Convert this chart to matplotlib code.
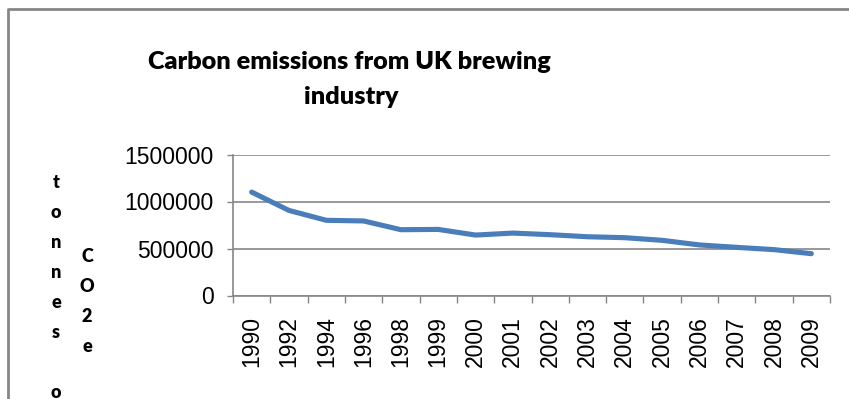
import numpy as np
import matplotlib
matplotlib.use('Agg')
import matplotlib.pyplot as plt
from matplotlib.lines import Line2D

# data
years = ['1990', '1992', '1994', '1996', '1998', '1999', '2000', '2001',
         '2002', '2003', '2004', '2005', '2006', '2007', '2008', '2009']
emissions = [1100000, 905000, 800000, 793000, 700000, 703000, 643000, 664000,
             647000, 625000, 615000, 587000, 538000, 512000, 488000, 445000]
yticks = [0, 500000, 1000000, 1500000]

title = 'Carbon emissions from UK brewing\nindustry'
ylabel_col1 = 'tonnes o'
ylabel_col2 = 'CO2e'

W, H = 849, 399
fig = plt.figure(figsize=(W / 100, H / 100), dpi=100)
fig.patch.set_facecolor('white')

grey = '#868686'

# chart border (top and left edges visible)
fig.add_artist(Line2D([8 / W, 8 / W, 1.0], [0.0, 1 - 9 / H, 1 - 9 / H],
                      color=grey, linewidth=2.0, transform=fig.transFigure))

ax = fig.add_axes([233 / W, 1 - 295.5 / H, (830 - 233) / W, (295.5 - 154.5) / H])
x = np.arange(len(years))
ax.plot(x, emissions, color='#4A7EBB', linewidth=3.7, solid_capstyle='round',
        solid_joinstyle='round', zorder=3)

ax.set_xlim(-0.5, len(years) - 0.5)
ax.set_ylim(0, 1500000)
ax.set_yticks(yticks)
ax.set_yticklabels([str(v) for v in yticks], fontsize=16.5, family='Liberation Sans')
ax.yaxis.grid(True, color=grey, linewidth=1.2)
ax.set_axisbelow(True)

ax.set_xticks(x)
ax.set_xticklabels(years, rotation=90, fontsize=16.5, family='Liberation Sans')
ax.set_xticks(np.arange(len(years) + 1) - 0.5, minor=True)
ax.tick_params(axis='x', which='major', length=0, pad=15)
ax.tick_params(axis='x', which='minor', length=5, color=grey, width=1.0)
ax.tick_params(axis='y', length=4, color=grey, width=1.0, pad=10)

for s in ['top', 'right']:
    ax.spines[s].set_visible(False)
for s in ['left', 'bottom']:
    ax.spines[s].set_color(grey)
    ax.spines[s].set_linewidth(1.2)

line1, line2 = title.split('\n')
fig.text(349 / W, 1 - 62 / H, line1, ha='center', va='center',
         fontsize=18.2, fontweight='heavy', family='Lato')
fig.text(351 / W, 1 - 97 / H, line2, ha='center', va='center',
         fontsize=18.2, fontweight='heavy', family='Lato')

# stacked vertical axis title
for i, ch in enumerate(ylabel_col1):
    fig.text(56 / W, 1 - (182 + 30 * i) / H, ch, ha='center', va='center',
             fontsize=13, fontweight='heavy', family='Lato')
for i, ch in enumerate(ylabel_col2):
    fig.text(87 / W, 1 - (257 + 30 * i) / H, ch, ha='center', va='center',
             fontsize=13, fontweight='heavy', family='Lato')

fig.savefig('out.png', dpi=100)
